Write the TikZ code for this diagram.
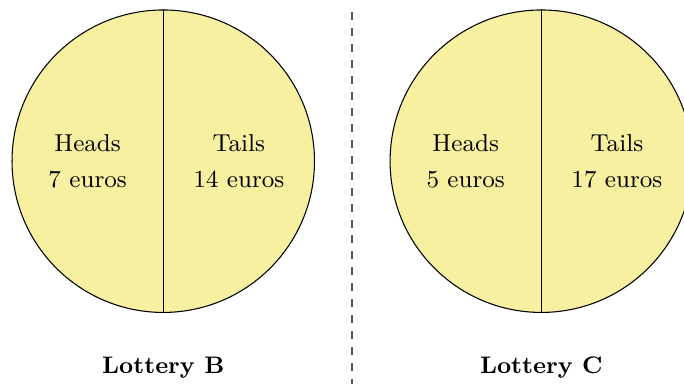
\documentclass[tikz,border=0pt]{standalone}
\definecolor{lotfill}{RGB}{247,240,161}
\begin{document}
\begin{tikzpicture}[
  lotcircle/.style={draw=black, line width=0.4pt, fill=lotfill},
  outcome/.style={align=center, font=\fontsize{9.2}{13.7}\selectfont},
  lotlabel/.style={font=\fontsize{9}{11}\selectfont\bfseries},
  divider/.style={draw=black!65, dashed, line width=0.7pt}
]
\useasboundingbox (-2.159,-2.940) rectangle (6.887,2.132);
% Lottery B
\node[lotcircle, circle, minimum size=4cm, inner sep=0pt] (cB) at (0,0) {};
\draw (cB.north) -- (cB.south);
\node[outcome] (hB) at (-1,0) {Heads\\7 euros};
\node[outcome] (tB) at (1,0) {Tails\\14 euros};
\node[lotlabel] (lB) at (0,-2.73) {Lottery B};
% Lottery C
\node[lotcircle, circle, minimum size=4cm, inner sep=0pt] (cC) at (5,0) {};
\draw (cC.north) -- (cC.south);
\node[outcome] (hC) at (4,0) {Heads\\5 euros};
\node[outcome] (tC) at (6,0) {Tails\\17 euros};
\node[lotlabel] (lC) at (5,-2.73) {Lottery C};
% divider
\coordinate (dtop) at (2.5,1.97);
\coordinate (dbot) at (2.5,-2.94);
\draw[divider] (dtop) -- (dbot);
\end{tikzpicture}
\end{document}
